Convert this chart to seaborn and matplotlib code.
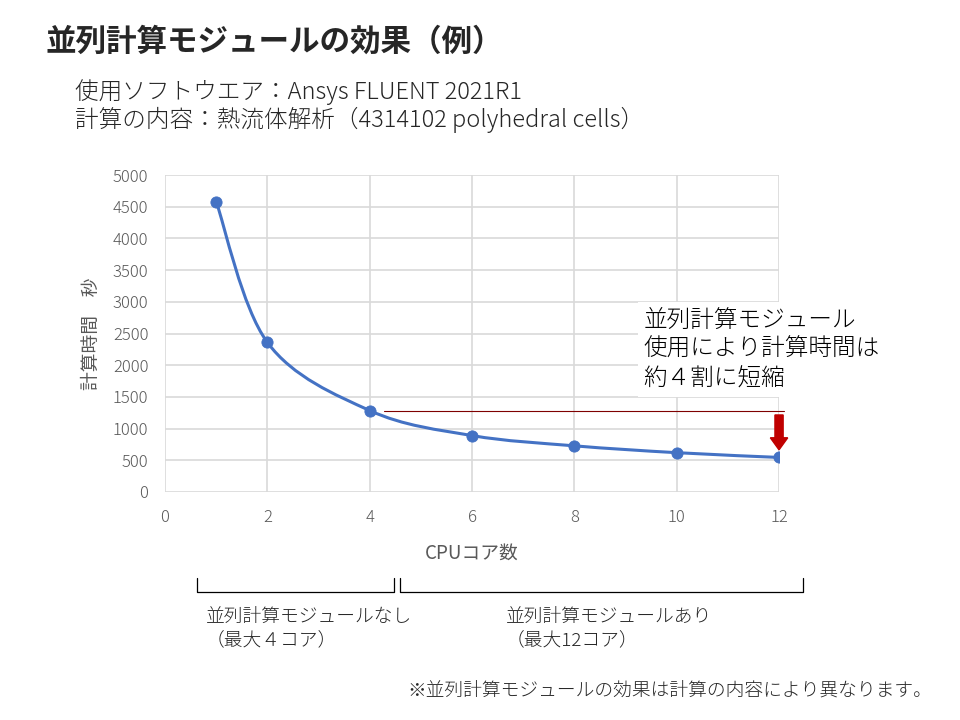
import numpy as np
import pandas as pd
import matplotlib
matplotlib.use("Agg")
import matplotlib.pyplot as plt
from matplotlib.path import Path
from matplotlib.patches import PathPatch, FancyArrow
import seaborn as sns

# data
cores = [1, 2, 4, 6, 8, 10, 12]
seconds = [4580, 2360, 1285, 890, 728, 620, 545]

x_ticks = [0, 2, 4, 6, 8, 10, 12]
y_ticks = [0, 500, 1000, 1500, 2000, 2500, 3000, 3500, 4000, 4500, 5000]

title = "並列計算モジュールの効果（例）"
sub1 = "使用ソフトウエア：Ansys FLUENT 2021R1"
sub2 = "計算の内容：熱流体解析（4314102 polyhedral cells）"
note_text = "並列計算モジュール\n使用により計算時間は\n約４割に短縮"
left_group = "並列計算モジュールなし\n（最大４コア）"
right_group = "並列計算モジュールあり\n（最大12コア）"
footnote = "※並列計算モジュールの効果は計算の内容により異なります。"

df = pd.DataFrame({"cores": cores, "seconds": seconds})

sns.set_theme(style="white")
plt.rcParams["font.family"] = ["Noto Sans CJK JP", "DejaVu Sans"]
plt.rcParams["font.weight"] = "light"

blue = "#4472C4"
gray = "#595959"
dark_red = "#C00000"

fig = plt.figure(figsize=(9.6, 7.2), dpi=100)
ax = fig.add_axes([0.1719, 0.3167, 0.6396, 0.4402])

# smoothed curve (Catmull-Rom style bezier through the data points)
xs = np.array(cores, dtype=float)
ys = np.array(seconds, dtype=float)
verts = [(xs[0], ys[0])]
codes = [Path.MOVETO]
t = 1 / 6
for i in range(len(xs) - 1):
    p0 = (xs[i - 1], ys[i - 1]) if i > 0 else (xs[i], ys[i])
    p1 = (xs[i], ys[i])
    p2 = (xs[i + 1], ys[i + 1])
    p3 = (xs[i + 2], ys[i + 2]) if i + 2 < len(xs) else p2
    c1 = (p1[0] + (p2[0] - p0[0]) * t, p1[1] + (p2[1] - p0[1]) * t)
    c2 = (p2[0] - (p3[0] - p1[0]) * t, p2[1] - (p3[1] - p1[1]) * t)
    verts += [c1, c2, p2]
    codes += [Path.CURVE4] * 3
ax.add_patch(PathPatch(Path(verts, codes), fill=False, edgecolor=blue,
                       lw=2.2, zorder=3))

sns.scatterplot(data=df, x="cores", y="seconds", color=blue, s=65,
                edgecolor=blue, zorder=4, ax=ax)

ax.set_xlim(0, 12)
ax.set_ylim(0, 5000)
ax.set_xticks(x_ticks)
ax.set_yticks(y_ticks)
ax.grid(True, color="#D9D9D9", lw=1.2)
for s in ax.spines.values():
    s.set_visible(False)
ax.tick_params(axis="both", colors=gray, labelsize=12, length=0)
ax.tick_params(axis="x", pad=12)
ax.tick_params(axis="y", pad=12)
ax.set_xlabel("CPUコア数", color=gray, fontsize=13.5, labelpad=12)
ax.set_ylabel("計算時間　秒", color=gray, fontsize=13.5, labelpad=8)

# reference line at 4-core level
ax.plot([4.27, 12.1], [seconds[2], seconds[2]], color="#7F0000", lw=0.8,
        clip_on=False, zorder=2)

# red arrow above the 12-core point
ax.add_patch(FancyArrow(12, 1215, 0, -550, width=0.16, head_width=0.34,
                        head_length=190, length_includes_head=True,
                        color=dark_red, zorder=5, clip_on=False))

# annotation box
fig.text(0.670, 0.573, note_text, fontsize=17, color="black", va="top",
         ha="left", linespacing=1.24,
         bbox=dict(facecolor="white", edgecolor="none", pad=4))

# titles
fig.text(0.047, 0.942, title, fontsize=22, fontweight="bold", va="center")
fig.text(0.078, 0.872, sub1, fontsize=17, va="center")
fig.text(0.078, 0.833, sub2, fontsize=17, va="center")

# brackets under the axis
bk = dict(color="black", lw=0.9)
y_top, y_bot = 1 - 578 / 720, 1 - 592 / 720
for x0, x1 in [(197, 394), (400, 803)]:
    fig.add_artist(plt.Line2D([x0 / 960, x0 / 960, x1 / 960, x1 / 960],
                              [y_top, y_bot, y_bot, y_top], **bk))

fig.text(206 / 960, 1 - 629 / 720, left_group, fontsize=13.5, va="center",
         linespacing=1.3)
fig.text(506 / 960, 1 - 629 / 720, right_group, fontsize=13.5, va="center",
         linespacing=1.3)

fig.text(932 / 960, 1 - 692 / 720, footnote, fontsize=13.5, ha="right",
         va="center")

plt.savefig("out.png", dpi=100)
